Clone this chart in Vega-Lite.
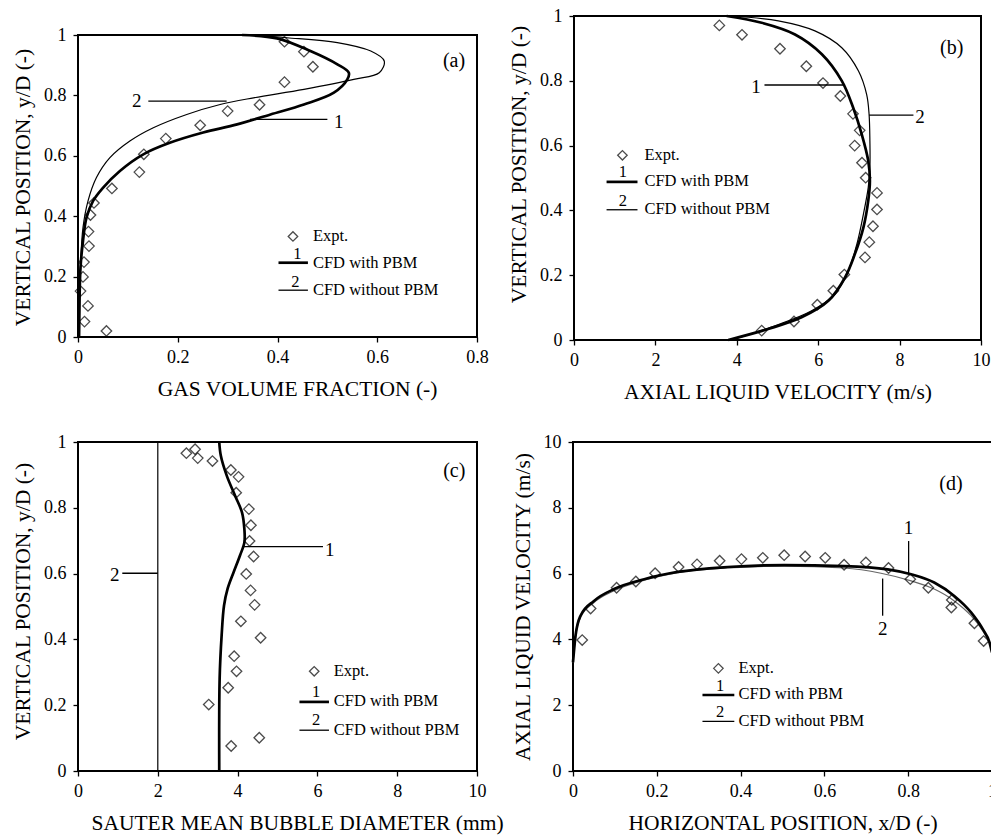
{
  "$schema": "https://vega.github.io/schema/vega-lite/v6.json",
  "padding": {"left": 11, "top": 6, "right": 0, "bottom": 2},
  "background": "white",
  "config": {
    "font": "Liberation Serif",
    "view": {"stroke": "black", "strokeWidth": 2},
    "axis": {"grid": false, "domain": false, "tickColor": "black", "tickSize": 5, "tickWidth": 1.3, "labelFont": "Liberation Serif", "labelFontSize": 18, "labelColor": "black", "labelFlush": false, "labelOverlap": false, "titleFont": "Liberation Serif", "titleFontSize": 21.5, "titleFontWeight": "normal", "titleColor": "black", "labelPadding": 6, "format": "~r"},
    "axisY": {"titlePadding": 9, "labelPadding": 7, "labelFont": "Liberation Serif"},
    "axisX": {"titlePadding": 12, "labelFont": "Liberation Serif"},
    "text": {"font": "Liberation Serif", "color": "black"}
  },
  "datasets": {
    "frame_a": [{"x": 0, "x2": 0.8, "y": 0, "y2": 1}],
    "a_pts": [{"x":0.414,"y":0.978},{"x":0.453,"y":0.945},{"x":0.471,"y":0.895},{"x":0.414,"y":0.844},{"x":0.364,"y":0.769},{"x":0.300,"y":0.748},{"x":0.245,"y":0.701},{"x":0.176,"y":0.657},{"x":0.132,"y":0.605},{"x":0.123,"y":0.546},{"x":0.068,"y":0.492},{"x":0.032,"y":0.444},{"x":0.025,"y":0.404},{"x":0.021,"y":0.349},{"x":0.022,"y":0.301},{"x":0.012,"y":0.248},{"x":0.010,"y":0.199},{"x":0.005,"y":0.152},{"x":0.020,"y":0.103},{"x":0.013,"y":0.051},{"x":0.057,"y":0.020}],
    "a_cfd": [
      {"s":1,"x":0.329,"y":1.0},{"s":1,"x":0.399,"y":0.989},{"s":1,"x":0.466,"y":0.947},{"s":1,"x":0.520,"y":0.903},{"s":1,"x":0.543,"y":0.875},{"s":1,"x":0.540,"y":0.853},{"s":1,"x":0.513,"y":0.809},{"s":1,"x":0.453,"y":0.770},{"s":1,"x":0.386,"y":0.737},{"s":1,"x":0.319,"y":0.704},{"s":1,"x":0.251,"y":0.677},{"s":1,"x":0.184,"y":0.643},{"s":1,"x":0.131,"y":0.605},{"s":1,"x":0.084,"y":0.550},{"s":1,"x":0.050,"y":0.494},{"s":1,"x":0.030,"y":0.450},{"s":1,"x":0.017,"y":0.395},{"s":1,"x":0.010,"y":0.318},{"s":1,"x":0.005,"y":0.230},{"s":1,"x":0.003,"y":0.119},{"s":1,"x":0.002,"y":0.0},
      {"s":2,"x":0.339,"y":1.0},{"s":2,"x":0.419,"y":0.991},{"s":2,"x":0.520,"y":0.975},{"s":2,"x":0.587,"y":0.947},{"s":2,"x":0.614,"y":0.914},{"s":2,"x":0.604,"y":0.875},{"s":2,"x":0.553,"y":0.853},{"s":2,"x":0.453,"y":0.820},{"s":2,"x":0.352,"y":0.792},{"s":2,"x":0.285,"y":0.770},{"s":2,"x":0.218,"y":0.737},{"s":2,"x":0.151,"y":0.693},{"s":2,"x":0.104,"y":0.649},{"s":2,"x":0.064,"y":0.594},{"s":2,"x":0.037,"y":0.528},{"s":2,"x":0.020,"y":0.450},{"s":2,"x":0.010,"y":0.362},{"s":2,"x":0.005,"y":0.230},{"s":2,"x":0.003,"y":0.0}
    ],
    "a_txt": [{"x":0.118,"y":0.781,"t":"2","k":"num"},{"x":0.523,"y":0.713,"t":"1","k":"num"},{"x":0.754,"y":0.914,"t":"(a)","k":"panel"},{"x":0.431,"y":0.333,"t":"","k":"sym"},{"x":0.471,"y":0.333,"t":"Expt.","k":"key"},{"x":0.440,"y":0.274,"t":"1","k":"keynum"},{"x":0.471,"y":0.246,"t":"CFD with PBM","k":"key"},{"x":0.436,"y":0.183,"t":"2","k":"keynum"},{"x":0.471,"y":0.157,"t":"CFD without PBM","k":"key"}],
    "a_seg": [{"x":0.141,"x2":0.298,"y":0.781,"y2":0.781,"w":"thin"},{"x":0.345,"x2":0.500,"y":0.721,"y2":0.721,"w":"thin"},{"x":0.402,"x2":0.461,"y":0.246,"y2":0.246,"w":"thick"},{"x":0.402,"x2":0.461,"y":0.155,"y2":0.155,"w":"thin"}],
    "b_pts": [{"x":3.571,"y":0.971},{"x":4.128,"y":0.942},{"x":5.061,"y":0.899},{"x":5.708,"y":0.845},{"x":6.118,"y":0.793},{"x":6.544,"y":0.753},{"x":6.855,"y":0.698},{"x":7.019,"y":0.647},{"x":6.896,"y":0.600},{"x":7.076,"y":0.547},{"x":7.166,"y":0.501},{"x":7.445,"y":0.454},{"x":7.445,"y":0.403},{"x":7.346,"y":0.351},{"x":7.256,"y":0.302},{"x":7.150,"y":0.255},{"x":6.642,"y":0.202},{"x":6.372,"y":0.152},{"x":5.979,"y":0.109},{"x":5.405,"y":0.057},{"x":4.611,"y":0.029}],
    "b_cfd": [
      {"s":1,"x":3.75,"y":1.0},{"s":1,"x":4.61,"y":0.979},{"s":1,"x":5.43,"y":0.943},{"s":1,"x":6.09,"y":0.882},{"s":1,"x":6.58,"y":0.800},{"s":1,"x":6.86,"y":0.717},{"s":1,"x":7.07,"y":0.635},{"s":1,"x":7.23,"y":0.553},{"s":1,"x":7.27,"y":0.491},{"s":1,"x":7.23,"y":0.430},{"s":1,"x":7.11,"y":0.347},{"s":1,"x":6.90,"y":0.265},{"s":1,"x":6.66,"y":0.193},{"s":1,"x":6.25,"y":0.121},{"s":1,"x":5.59,"y":0.070},{"s":1,"x":4.77,"y":0.034},{"s":1,"x":3.79,"y":0.0},
      {"s":2,"x":3.83,"y":1.0},{"s":2,"x":5.02,"y":0.985},{"s":2,"x":5.92,"y":0.954},{"s":2,"x":6.58,"y":0.902},{"s":2,"x":6.99,"y":0.830},{"s":2,"x":7.19,"y":0.758},{"s":2,"x":7.25,"y":0.697},{"s":2,"x":7.27,"y":0.615},{"s":2,"x":7.27,"y":0.532},{"s":2,"x":7.23,"y":0.471},{"s":2,"x":7.11,"y":0.388},{"s":2,"x":6.95,"y":0.296},{"s":2,"x":6.74,"y":0.214},{"s":2,"x":6.41,"y":0.142},{"s":2,"x":5.84,"y":0.090},{"s":2,"x":4.94,"y":0.044},{"s":2,"x":3.87,"y":0.0}
    ],
    "b_txt": [{"x":4.47,"y":0.781,"t":"1","k":"num"},{"x":8.50,"y":0.689,"t":"2","k":"num"},{"x":9.28,"y":0.902,"t":"(b)","k":"panel"},{"x":1.19,"y":0.570,"t":"","k":"sym"},{"x":1.73,"y":0.570,"t":"Expt.","k":"key"},{"x":1.20,"y":0.517,"t":"1","k":"keynum"},{"x":1.73,"y":0.490,"t":"CFD with PBM","k":"key"},{"x":1.20,"y":0.430,"t":"2","k":"keynum"},{"x":1.73,"y":0.404,"t":"CFD without PBM","k":"key"}],
    "b_seg": [{"x":4.68,"x2":6.66,"y":0.787,"y2":0.787,"w":"thin"},{"x":7.25,"x2":8.34,"y":0.694,"y2":0.694,"w":"thin"},{"x":0.80,"x2":1.56,"y":0.488,"y2":0.488,"w":"thick"},{"x":0.80,"x2":1.56,"y":0.402,"y2":0.402,"w":"thin"}],
    "c_pts": [{"x":2.716,"y":0.966},{"x":2.934,"y":0.978},{"x":3.001,"y":0.951},{"x":3.370,"y":0.942},{"x":3.831,"y":0.915},{"x":4.023,"y":0.894},{"x":3.965,"y":0.846},{"x":4.283,"y":0.796},{"x":4.334,"y":0.747},{"x":4.300,"y":0.699},{"x":4.401,"y":0.652},{"x":4.216,"y":0.599},{"x":4.325,"y":0.549},{"x":4.426,"y":0.505},{"x":4.082,"y":0.455},{"x":4.577,"y":0.405},{"x":3.914,"y":0.349},{"x":3.973,"y":0.303},{"x":3.764,"y":0.253},{"x":3.277,"y":0.202},{"x":4.543,"y":0.101},{"x":3.839,"y":0.076}],
    "c_cfd": [
      {"s":1,"x":3.54,"y":1.0},{"s":1,"x":3.58,"y":0.958},{"s":1,"x":3.73,"y":0.897},{"s":1,"x":3.94,"y":0.836},{"s":1,"x":4.11,"y":0.786},{"s":1,"x":4.17,"y":0.735},{"s":1,"x":4.17,"y":0.695},{"s":1,"x":4.06,"y":0.655},{"s":1,"x":3.90,"y":0.604},{"s":1,"x":3.75,"y":0.554},{"s":1,"x":3.66,"y":0.503},{"s":1,"x":3.60,"y":0.412},{"s":1,"x":3.55,"y":0.281},{"s":1,"x":3.54,"y":0.0},
      {"s":2,"x":2.0,"y":0.0},{"s":2,"x":2.0,"y":1.0}
    ],
    "c_txt": [{"x":6.31,"y":0.673,"t":"1","k":"num"},{"x":0.92,"y":0.596,"t":"2","k":"num"},{"x":9.43,"y":0.912,"t":"(c)","k":"panel"},{"x":5.92,"y":0.303,"t":"","k":"sym"},{"x":6.41,"y":0.303,"t":"Expt.","k":"key"},{"x":5.97,"y":0.240,"t":"1","k":"keynum"},{"x":6.41,"y":0.212,"t":"CFD with PBM","k":"key"},{"x":5.97,"y":0.155,"t":"2","k":"keynum"},{"x":6.41,"y":0.126,"t":"CFD without PBM","k":"key"}],
    "c_seg": [{"x":4.11,"x2":6.14,"y":0.682,"y2":0.682,"w":"thin"},{"x":1.11,"x2":2.0,"y":0.601,"y2":0.601,"w":"thin"},{"x":5.55,"x2":6.29,"y":0.210,"y2":0.210,"w":"thick"},{"x":5.55,"x2":6.29,"y":0.124,"y2":0.124,"w":"thin"}],
    "d_pts": [{"x":0.022,"y":3.98},{"x":0.042,"y":4.94},{"x":0.104,"y":5.57},{"x":0.150,"y":5.76},{"x":0.196,"y":6.01},{"x":0.252,"y":6.20},{"x":0.296,"y":6.28},{"x":0.350,"y":6.39},{"x":0.402,"y":6.44},{"x":0.453,"y":6.48},{"x":0.504,"y":6.56},{"x":0.554,"y":6.52},{"x":0.602,"y":6.48},{"x":0.647,"y":6.27},{"x":0.699,"y":6.34},{"x":0.753,"y":6.17},{"x":0.805,"y":5.83},{"x":0.848,"y":5.57},{"x":0.904,"y":5.20},{"x":0.903,"y":4.97},{"x":0.958,"y":4.49},{"x":0.980,"y":3.95}],
    "d_cfd": [
      {"s":1,"x":0.0,"y":3.30},{"s":1,"x":0.006,"y":4.11},{"s":1,"x":0.018,"y":4.72},{"s":1,"x":0.05,"y":5.17},{"s":1,"x":0.098,"y":5.53},{"s":1,"x":0.17,"y":5.83},{"s":1,"x":0.25,"y":6.05},{"s":1,"x":0.369,"y":6.20},{"s":1,"x":0.504,"y":6.26},{"s":1,"x":0.647,"y":6.23},{"s":1,"x":0.751,"y":6.13},{"s":1,"x":0.807,"y":5.98},{"s":1,"x":0.862,"y":5.73},{"s":1,"x":0.91,"y":5.32},{"s":1,"x":0.95,"y":4.82},{"s":1,"x":0.978,"y":4.31},{"s":1,"x":0.994,"y":3.91},{"s":1,"x":1.0,"y":3.60},
      {"s":2,"x":0.0,"y":3.30},{"s":2,"x":0.006,"y":4.06},{"s":2,"x":0.018,"y":4.67},{"s":2,"x":0.05,"y":5.12},{"s":2,"x":0.098,"y":5.48},{"s":2,"x":0.17,"y":5.80},{"s":2,"x":0.25,"y":6.03},{"s":2,"x":0.369,"y":6.17},{"s":2,"x":0.504,"y":6.23},{"s":2,"x":0.647,"y":6.17},{"s":2,"x":0.735,"y":6.01},{"s":2,"x":0.807,"y":5.78},{"s":2,"x":0.862,"y":5.53},{"s":2,"x":0.91,"y":5.17},{"s":2,"x":0.95,"y":4.72},{"s":2,"x":0.978,"y":4.26},{"s":2,"x":0.998,"y":3.81}
    ],
    "d_txt": [{"x":0.801,"y":7.40,"t":"1","k":"num"},{"x":0.739,"y":4.33,"t":"2","k":"num"},{"x":0.902,"y":8.71,"t":"(d)","k":"panel"},{"x":0.347,"y":3.12,"t":"","k":"sym"},{"x":0.395,"y":3.12,"t":"Expt.","k":"key"},{"x":0.351,"y":2.59,"t":"1","k":"keynum"},{"x":0.395,"y":2.33,"t":"CFD with PBM","k":"key"},{"x":0.351,"y":1.80,"t":"2","k":"keynum"},{"x":0.395,"y":1.51,"t":"CFD without PBM","k":"key"}],
    "d_seg": [{"x":0.801,"x2":0.801,"y":6.01,"y2":6.99,"w":"thin"},{"x":0.739,"x2":0.739,"y":4.72,"y2":5.85,"w":"thin"},{"x":0.309,"x2":0.385,"y":2.31,"y2":2.31,"w":"thick"},{"x":0.309,"x2":0.385,"y":1.51,"y2":1.51,"w":"thin"}]
  },
  "spacing": 28,
  "vconcat": [
    {
      "spacing": 18,
      "hconcat": [
        {
          "width": 399, "height": 321,
          "view": {"stroke": null},
          "encoding": {
            "x": {"field": "x", "type": "quantitative", "scale": {"domain": [0, 0.8], "nice": false}, "axis": {"title": "GAS VOLUME FRACTION (-)", "values": [0, 0.2, 0.4, 0.6, 0.8], "titleX": 219}},
            "y": {"field": "y", "type": "quantitative", "scale": {"domain": [0, 1.063], "nice": false}, "axis": {"title": "VERTICAL POSITION, y/D (-)", "values": [0, 0.2, 0.4, 0.6, 0.8, 1], "titleY": 171}}
          },
          "layer": [
            {"data": {"name": "frame_a"}, "mark": {"type": "rect", "filled": false, "stroke": "black", "strokeWidth": 2}, "encoding": {"x2": {"field": "x2"}, "y2": {"field": "y2"}}},
            {"data": {"name": "a_cfd"}, "transform": [{"filter": "datum.s == 2"}], "mark": {"type": "line", "interpolate": "catmull-rom", "color": "black", "strokeWidth": 1.2}, "encoding": {"order": {"field": "y", "type": "quantitative"}}},
            {"data": {"name": "a_cfd"}, "transform": [{"filter": "datum.s == 1"}], "mark": {"type": "line", "interpolate": "catmull-rom", "color": "black", "strokeWidth": 2.7}, "encoding": {"order": {"field": "y", "type": "quantitative"}}},
            {"data": {"name": "a_pts"}, "mark": {"type": "point", "shape": "diamond", "filled": false, "color": "black", "size": 110, "strokeWidth": 1.3}},
            {"data": {"name": "a_txt"}, "transform": [{"filter": "datum.k == 'sym'"}], "mark": {"type": "point", "shape": "diamond", "filled": false, "color": "black", "size": 90, "strokeWidth": 1.3}},
            {"data": {"name": "a_seg"}, "transform": [{"filter": "datum.w == 'thin'"}], "mark": {"type": "rule", "color": "black", "strokeWidth": 1.3}, "encoding": {"x2": {"field": "x2"}, "y2": {"field": "y2"}}},
            {"data": {"name": "a_seg"}, "transform": [{"filter": "datum.w == 'thick'"}], "mark": {"type": "rule", "color": "black", "strokeWidth": 2.7}, "encoding": {"x2": {"field": "x2"}, "y2": {"field": "y2"}}},
            {"data": {"name": "a_txt"}, "transform": [{"filter": "datum.k == 'num'"}], "mark": {"type": "text", "font": "Liberation Serif", "fontSize": 19, "align": "center", "baseline": "middle"}, "encoding": {"text": {"field": "t"}}},
            {"data": {"name": "a_txt"}, "transform": [{"filter": "datum.k == 'keynum'"}], "mark": {"type": "text", "font": "Liberation Serif", "fontSize": 16.5, "align": "center", "baseline": "middle"}, "encoding": {"text": {"field": "t"}}},
            {"data": {"name": "a_txt"}, "transform": [{"filter": "datum.k == 'key'"}], "mark": {"type": "text", "font": "Liberation Serif", "fontSize": 16.5, "align": "left", "baseline": "middle"}, "encoding": {"text": {"field": "t"}}},
            {"data": {"name": "a_txt"}, "transform": [{"filter": "datum.k == 'panel'"}], "mark": {"type": "text", "font": "Liberation Serif", "fontSize": 20, "align": "center", "baseline": "middle"}, "encoding": {"text": {"field": "t"}}}
          ]
        },
        {
          "width": 407, "height": 324,
          "encoding": {
            "x": {"field": "x", "type": "quantitative", "scale": {"domain": [0, 10], "nice": false}, "axis": {"title": "AXIAL LIQUID VELOCITY (m/s)", "values": [0, 2, 4, 6, 8, 10]}},
            "y": {"field": "y", "type": "quantitative", "scale": {"domain": [0, 1], "nice": false}, "axis": {"title": "VERTICAL POSITION, y/D (-)", "values": [0, 0.2, 0.4, 0.6, 0.8, 1], "titleY": 148}}
          },
          "layer": [
            {"data": {"name": "b_cfd"}, "transform": [{"filter": "datum.s == 2"}], "mark": {"type": "line", "interpolate": "catmull-rom", "color": "black", "strokeWidth": 1.2}, "encoding": {"order": {"field": "y", "type": "quantitative"}}},
            {"data": {"name": "b_cfd"}, "transform": [{"filter": "datum.s == 1"}], "mark": {"type": "line", "interpolate": "catmull-rom", "color": "black", "strokeWidth": 2.7}, "encoding": {"order": {"field": "y", "type": "quantitative"}}},
            {"data": {"name": "b_pts"}, "mark": {"type": "point", "shape": "diamond", "filled": false, "color": "black", "size": 110, "strokeWidth": 1.3}},
            {"data": {"name": "b_txt"}, "transform": [{"filter": "datum.k == 'sym'"}], "mark": {"type": "point", "shape": "diamond", "filled": false, "color": "black", "size": 90, "strokeWidth": 1.3}},
            {"data": {"name": "b_seg"}, "transform": [{"filter": "datum.w == 'thin'"}], "mark": {"type": "rule", "color": "black", "strokeWidth": 1.3}, "encoding": {"x2": {"field": "x2"}, "y2": {"field": "y2"}}},
            {"data": {"name": "b_seg"}, "transform": [{"filter": "datum.w == 'thick'"}], "mark": {"type": "rule", "color": "black", "strokeWidth": 2.7}, "encoding": {"x2": {"field": "x2"}, "y2": {"field": "y2"}}},
            {"data": {"name": "b_txt"}, "transform": [{"filter": "datum.k == 'num'"}], "mark": {"type": "text", "font": "Liberation Serif", "fontSize": 19, "align": "center", "baseline": "middle"}, "encoding": {"text": {"field": "t"}}},
            {"data": {"name": "b_txt"}, "transform": [{"filter": "datum.k == 'keynum'"}], "mark": {"type": "text", "font": "Liberation Serif", "fontSize": 16.5, "align": "center", "baseline": "middle"}, "encoding": {"text": {"field": "t"}}},
            {"data": {"name": "b_txt"}, "transform": [{"filter": "datum.k == 'key'"}], "mark": {"type": "text", "font": "Liberation Serif", "fontSize": 16.5, "align": "left", "baseline": "middle"}, "encoding": {"text": {"field": "t"}}},
            {"data": {"name": "b_txt"}, "transform": [{"filter": "datum.k == 'panel'"}], "mark": {"type": "text", "font": "Liberation Serif", "fontSize": 20, "align": "center", "baseline": "middle"}, "encoding": {"text": {"field": "t"}}}
          ]
        }
      ]
    },
    {
      "spacing": 6,
      "hconcat": [
        {
          "width": 399, "height": 329,
          "encoding": {
            "x": {"field": "x", "type": "quantitative", "scale": {"domain": [0, 10], "nice": false}, "axis": {"title": "SAUTER MEAN BUBBLE DIAMETER (mm)", "values": [0, 2, 4, 6, 8, 10], "titleX": 219}},
            "y": {"field": "y", "type": "quantitative", "scale": {"domain": [0, 1], "nice": false}, "axis": {"title": "VERTICAL POSITION, y/D (-)", "values": [0, 0.2, 0.4, 0.6, 0.8, 1], "titleY": 159}}
          },
          "layer": [
            {"data": {"name": "c_cfd"}, "transform": [{"filter": "datum.s == 2"}], "mark": {"type": "line", "color": "black", "strokeWidth": 1.2}, "encoding": {"order": {"field": "y", "type": "quantitative"}}},
            {"data": {"name": "c_cfd"}, "transform": [{"filter": "datum.s == 1"}], "mark": {"type": "line", "interpolate": "catmull-rom", "color": "black", "strokeWidth": 2.7}, "encoding": {"order": {"field": "y", "type": "quantitative"}}},
            {"data": {"name": "c_pts"}, "mark": {"type": "point", "shape": "diamond", "filled": false, "color": "black", "size": 110, "strokeWidth": 1.3}},
            {"data": {"name": "c_txt"}, "transform": [{"filter": "datum.k == 'sym'"}], "mark": {"type": "point", "shape": "diamond", "filled": false, "color": "black", "size": 90, "strokeWidth": 1.3}},
            {"data": {"name": "c_seg"}, "transform": [{"filter": "datum.w == 'thin'"}], "mark": {"type": "rule", "color": "black", "strokeWidth": 1.3}, "encoding": {"x2": {"field": "x2"}, "y2": {"field": "y2"}}},
            {"data": {"name": "c_seg"}, "transform": [{"filter": "datum.w == 'thick'"}], "mark": {"type": "rule", "color": "black", "strokeWidth": 2.7}, "encoding": {"x2": {"field": "x2"}, "y2": {"field": "y2"}}},
            {"data": {"name": "c_txt"}, "transform": [{"filter": "datum.k == 'num'"}], "mark": {"type": "text", "font": "Liberation Serif", "fontSize": 19, "align": "center", "baseline": "middle"}, "encoding": {"text": {"field": "t"}}},
            {"data": {"name": "c_txt"}, "transform": [{"filter": "datum.k == 'keynum'"}], "mark": {"type": "text", "font": "Liberation Serif", "fontSize": 16.5, "align": "center", "baseline": "middle"}, "encoding": {"text": {"field": "t"}}},
            {"data": {"name": "c_txt"}, "transform": [{"filter": "datum.k == 'key'"}], "mark": {"type": "text", "font": "Liberation Serif", "fontSize": 16.5, "align": "left", "baseline": "middle"}, "encoding": {"text": {"field": "t"}}},
            {"data": {"name": "c_txt"}, "transform": [{"filter": "datum.k == 'panel'"}], "mark": {"type": "text", "font": "Liberation Serif", "fontSize": 20, "align": "center", "baseline": "middle"}, "encoding": {"text": {"field": "t"}}}
          ]
        },
        {
          "width": 419, "height": 329,
          "encoding": {
            "x": {"field": "x", "type": "quantitative", "scale": {"domain": [0, 1], "nice": false}, "axis": {"title": "HORIZONTAL POSITION, x/D (-)", "values": [0, 0.2, 0.4, 0.6, 0.8, 1]}},
            "y": {"field": "y", "type": "quantitative", "scale": {"domain": [0, 10], "nice": false}, "axis": {"title": "AXIAL LIQUID VELOCITY (m/s)", "values": [0, 2, 4, 6, 8, 10]}}
          },
          "layer": [
            {"data": {"name": "d_cfd"}, "transform": [{"filter": "datum.s == 2"}], "mark": {"type": "line", "interpolate": "monotone", "color": "#666666", "strokeWidth": 1.2}},
            {"data": {"name": "d_cfd"}, "transform": [{"filter": "datum.s == 1"}], "mark": {"type": "line", "interpolate": "monotone", "color": "black", "strokeWidth": 2.7}},
            {"data": {"name": "d_pts"}, "mark": {"type": "point", "shape": "diamond", "filled": false, "color": "black", "size": 110, "strokeWidth": 1.3}},
            {"data": {"name": "d_txt"}, "transform": [{"filter": "datum.k == 'sym'"}], "mark": {"type": "point", "shape": "diamond", "filled": false, "color": "black", "size": 90, "strokeWidth": 1.3}},
            {"data": {"name": "d_seg"}, "transform": [{"filter": "datum.w == 'thin'"}], "mark": {"type": "rule", "color": "black", "strokeWidth": 1.3}, "encoding": {"x2": {"field": "x2"}, "y2": {"field": "y2"}}},
            {"data": {"name": "d_seg"}, "transform": [{"filter": "datum.w == 'thick'"}], "mark": {"type": "rule", "color": "black", "strokeWidth": 2.7}, "encoding": {"x2": {"field": "x2"}, "y2": {"field": "y2"}}},
            {"data": {"name": "d_txt"}, "transform": [{"filter": "datum.k == 'num'"}], "mark": {"type": "text", "font": "Liberation Serif", "fontSize": 19, "align": "center", "baseline": "middle"}, "encoding": {"text": {"field": "t"}}},
            {"data": {"name": "d_txt"}, "transform": [{"filter": "datum.k == 'keynum'"}], "mark": {"type": "text", "font": "Liberation Serif", "fontSize": 16.5, "align": "center", "baseline": "middle"}, "encoding": {"text": {"field": "t"}}},
            {"data": {"name": "d_txt"}, "transform": [{"filter": "datum.k == 'key'"}], "mark": {"type": "text", "font": "Liberation Serif", "fontSize": 16.5, "align": "left", "baseline": "middle"}, "encoding": {"text": {"field": "t"}}},
            {"data": {"name": "d_txt"}, "transform": [{"filter": "datum.k == 'panel'"}], "mark": {"type": "text", "font": "Liberation Serif", "fontSize": 20, "align": "center", "baseline": "middle"}, "encoding": {"text": {"field": "t"}}}
          ]
        }
      ]
    }
  ]
}
